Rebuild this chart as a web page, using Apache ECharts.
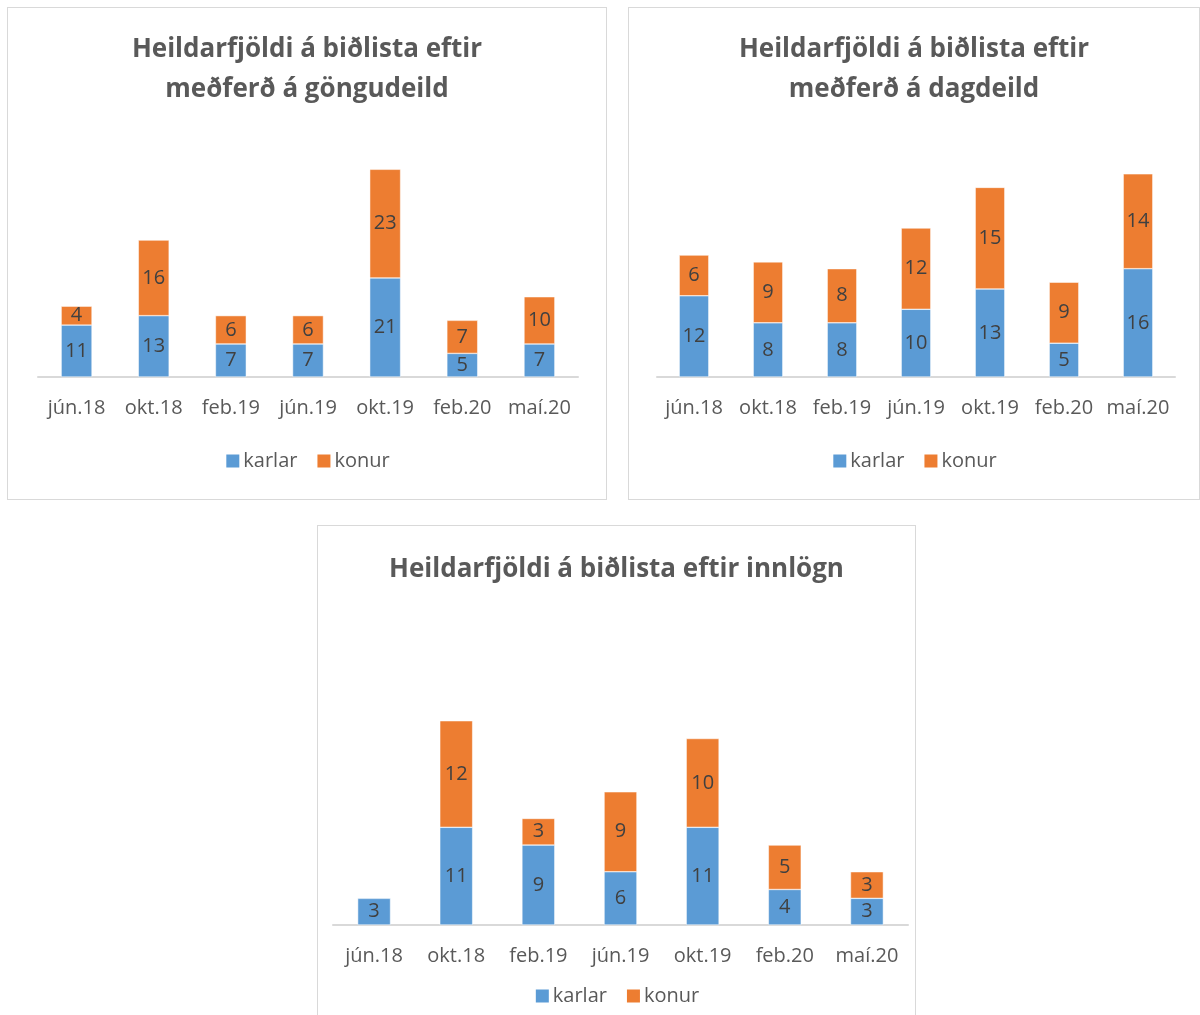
<!DOCTYPE html>
<html>
<head>
<meta charset="utf-8">
<script src="https://cdn.jsdelivr.net/npm/echarts@6/dist/echarts.min.js"></script>
<style>
html,body{margin:0;padding:0;background:#fff;width:1200px;height:1015px;overflow:hidden;position:relative;}
.box{position:absolute;border:1px solid #d9d9d9;box-sizing:border-box;background:#fff;}
</style>
</head>
<body>
<div id="c1" class="box" style="left:7px;top:7px;width:600px;height:493px;"></div>
<div id="c2" class="box" style="left:628px;top:7px;width:572px;height:493px;"></div>
<div id="c3" class="box" style="left:317px;top:525px;width:599px;height:500px;"></div>
<script>
const categories = ['jún.18','okt.18','feb.19','jún.19','okt.19','feb.20','maí.20'];
const seriesNames = ['karlar','konur'];

const title1 = 'Heildarfjöldi á biðlista eftir\nmeðferð á göngudeild';
const karlar1 = [11, 13, 7, 7, 21, 5, 7];
const konur1  = [4, 16, 6, 6, 23, 7, 10];

const title2 = 'Heildarfjöldi á biðlista eftir\nmeðferð á dagdeild';
const karlar2 = [12, 8, 8, 10, 13, 5, 16];
const konur2  = [6, 9, 8, 12, 15, 9, 14];

const title3 = 'Heildarfjöldi á biðlista eftir innlögn';
const karlar3 = [3, 11, 9, 6, 11, 4, 3];
const konur3  = [null, 12, 3, 9, 10, 5, 3];

const FONT = '"Open Sans", Lato, sans-serif';
const COLORS = ['#5B9BD5', '#ED7D31'];

function makeChart(id, title, karlar, konur, cfg) {
  const chart = echarts.init(document.getElementById(id), null, {renderer: 'canvas'});
  const label = {
    show: true, position: 'inside', color: '#404040',
    fontFamily: FONT, fontSize: 20,
    formatter: p => (p.value == null || p.value === 0) ? '' : String(p.value)
  };
  chart.setOption({
    animation: false,
    color: COLORS,
    textStyle: {fontFamily: FONT},
    title: {
      text: title, left: 'center', top: cfg.titleTop,
      textStyle: {fontFamily: FONT, fontSize: 26, fontWeight: 'bold', color: '#595959', lineHeight: 40}
    },
    legend: {
      data: seriesNames, left: 'center', top: cfg.legendTop,
      icon: 'rect', itemWidth: 15, itemHeight: 15, itemGap: 18,
      textStyle: {fontFamily: FONT, fontSize: 20, color: '#595959', padding: [0,0,0,-2]}
    },
    grid: {left: cfg.left, top: cfg.top, width: cfg.width, height: cfg.height, containLabel: false},
    xAxis: {
      type: 'category', data: categories,
      axisLine: {lineStyle: {color: '#d9d9d9', width: 2}},
      axisTick: {show: false},
      axisLabel: {color: '#595959', fontFamily: FONT, fontSize: 20, margin: 21, interval: 0, hideOverlap: false}
    },
    yAxis: {type: 'value', min: 0, max: cfg.max, show: false, splitLine: {show: false}},
    series: [
      {name: seriesNames[0], type: 'bar', stack: 's', data: karlar, barWidth: '40%', label: label,
       itemStyle: {borderColor: '#fff', borderWidth: 0.5}},
      {name: seriesNames[1], type: 'bar', stack: 's', data: konur, barWidth: '40%', label: label,
       itemStyle: {borderColor: '#fff', borderWidth: 0.5}}
    ]
  });
}

makeChart('c1', title1, karlar1, konur1, {titleTop: 17, legendTop: 438, left: 30, top: 133, width: 540, height: 236, max: 50});
makeChart('c2', title2, karlar2, konur2, {titleTop: 17, legendTop: 438, left: 28, top: 132, width: 518, height: 237, max: 35});
makeChart('c3', title3, karlar3, konur3, {titleTop: 19, legendTop: 455, left: 15, top: 177, width: 575, height: 222, max: 25});
</script>
</body>
</html>
